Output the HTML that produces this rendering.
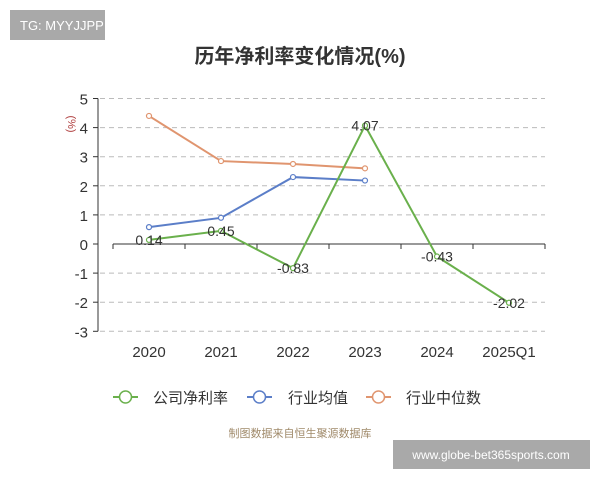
<!DOCTYPE html>
<html><head><meta charset="utf-8"><style>
body{margin:0;background:#fff;width:600px;height:480px;overflow:hidden;font-family:"Liberation Sans","Noto Sans CJK SC",sans-serif}
</style></head><body>
<svg width="600" height="480" xmlns="http://www.w3.org/2000/svg" font-family="Liberation Sans, Noto Sans CJK SC, sans-serif">
<rect x="10" y="10" width="95" height="30" fill="#a9a9a9"/>
<text x="20" y="30" font-size="13" fill="#fff">TG: MYYJJPP</text>
<text x="300" y="63" font-size="20" font-weight="bold" fill="#333" text-anchor="middle">历年净利率变化情况(%)</text>
<text transform="translate(68,124) rotate(90)" font-size="11" fill="#b04040" text-anchor="middle">(%)</text>
<g id="grid"></g><g id="axes"></g><g id="series"></g>
<g>
<line x1="113" y1="397" x2="138" y2="397" stroke="#6ab04c" stroke-width="2"/><circle cx="125.5" cy="397" r="6" fill="#fff" stroke="#6ab04c" stroke-width="1.5"/>
<text x="153" y="403" font-size="15" fill="#333">公司净利率</text>
<line x1="247" y1="397" x2="272" y2="397" stroke="#5b7ec8" stroke-width="2"/><circle cx="259.5" cy="397" r="6" fill="#fff" stroke="#5b7ec8" stroke-width="1.5"/>
<text x="288" y="403" font-size="15" fill="#333">行业均值</text>
<line x1="366" y1="397" x2="391" y2="397" stroke="#e0956f" stroke-width="2"/><circle cx="378.5" cy="397" r="6" fill="#fff" stroke="#e0956f" stroke-width="1.5"/>
<text x="406" y="403" font-size="15" fill="#333">行业中位数</text>
</g>
<text x="300" y="437" font-size="11" fill="#a08a6a" text-anchor="middle">制图数据来自恒生聚源数据库</text>
<rect x="393" y="440" width="197" height="29" fill="#a9a9a9"/>
<text x="491" y="459" font-size="12" fill="#fff" text-anchor="middle">www.globe-bet365sports.com</text>
</svg>
<script>
const categories=["2020","2021","2022","2023","2024","2025Q1"];
const companyMargin=[0.14,0.45,-0.83,4.07,-0.43,-2.02];
const industryMean=[0.58,0.9,2.3,2.18];
const industryMedian=[4.4,2.85,2.75,2.6];
const yTicks=[-3,-2,-1,0,1,2,3,4,5];
const NS="http://www.w3.org/2000/svg";
const y=v=>244-v*29.1;
const x=i=>149+i*72;
function mk(t,a,p){const e=document.createElementNS(NS,t);for(const k in a)e.setAttribute(k,a[k]);p.appendChild(e);return e;}
const grid=document.getElementById('grid'),axes=document.getElementById('axes'),ser=document.getElementById('series');
yTicks.forEach(v=>{
 if(v!==0){const g=mk('line',{x1:100,x2:545,y1:y(v),y2:y(v),stroke:'#bbb','stroke-dasharray':'5,4'},grid);
 
 }
 mk('line',{x1:93,x2:98,y1:y(v),y2:y(v),stroke:'#333'},axes);
 const t=mk('text',{x:88,y:y(v)+6,'font-size':15,fill:'#333','text-anchor':'end'},axes);t.textContent=v;
 
 
});
const ya=mk('line',{x1:98,x2:98,y1:y(5),y2:y(-3),stroke:'#333'},axes);


const xa=mk('line',{x1:113,x2:545,y1:y(0),y2:y(0),stroke:'#333'},axes);


for(let i=0;i<=categories.length;i++)mk('line',{x1:113+i*72,x2:113+i*72,y1:y(0),y2:y(0)+5,stroke:'#333'},axes);
categories.forEach((c,i)=>{const t=mk('text',{x:x(i),y:357,'font-size':15,fill:'#333','text-anchor':'middle'},axes);t.textContent=c;
 
 });
function series(arr,color,name,labels){
 const p=mk('polyline',{points:arr.map((v,i)=>x(i)+','+y(v)).join(' '),fill:'none',stroke:color,'stroke-width':2},ser);
 
 
 arr.forEach((v,i)=>{const c=mk('circle',{cx:x(i),cy:y(v),r:2.5,fill:'#fff',stroke:color,'stroke-width':1.2},ser);
  
  
  if(labels){const t=mk('text',{x:x(i),y:y(v)+5,'font-size':14,fill:'#333','text-anchor':'middle'},ser);t.textContent=v.toFixed(2);
  
  }});
}
series(industryMedian,'#e0956f','industry-median',false);
series(industryMean,'#5b7ec8','industry-mean',false);
series(companyMargin,'#6ab04c','company-margin',true);
</script>
</body></html>
